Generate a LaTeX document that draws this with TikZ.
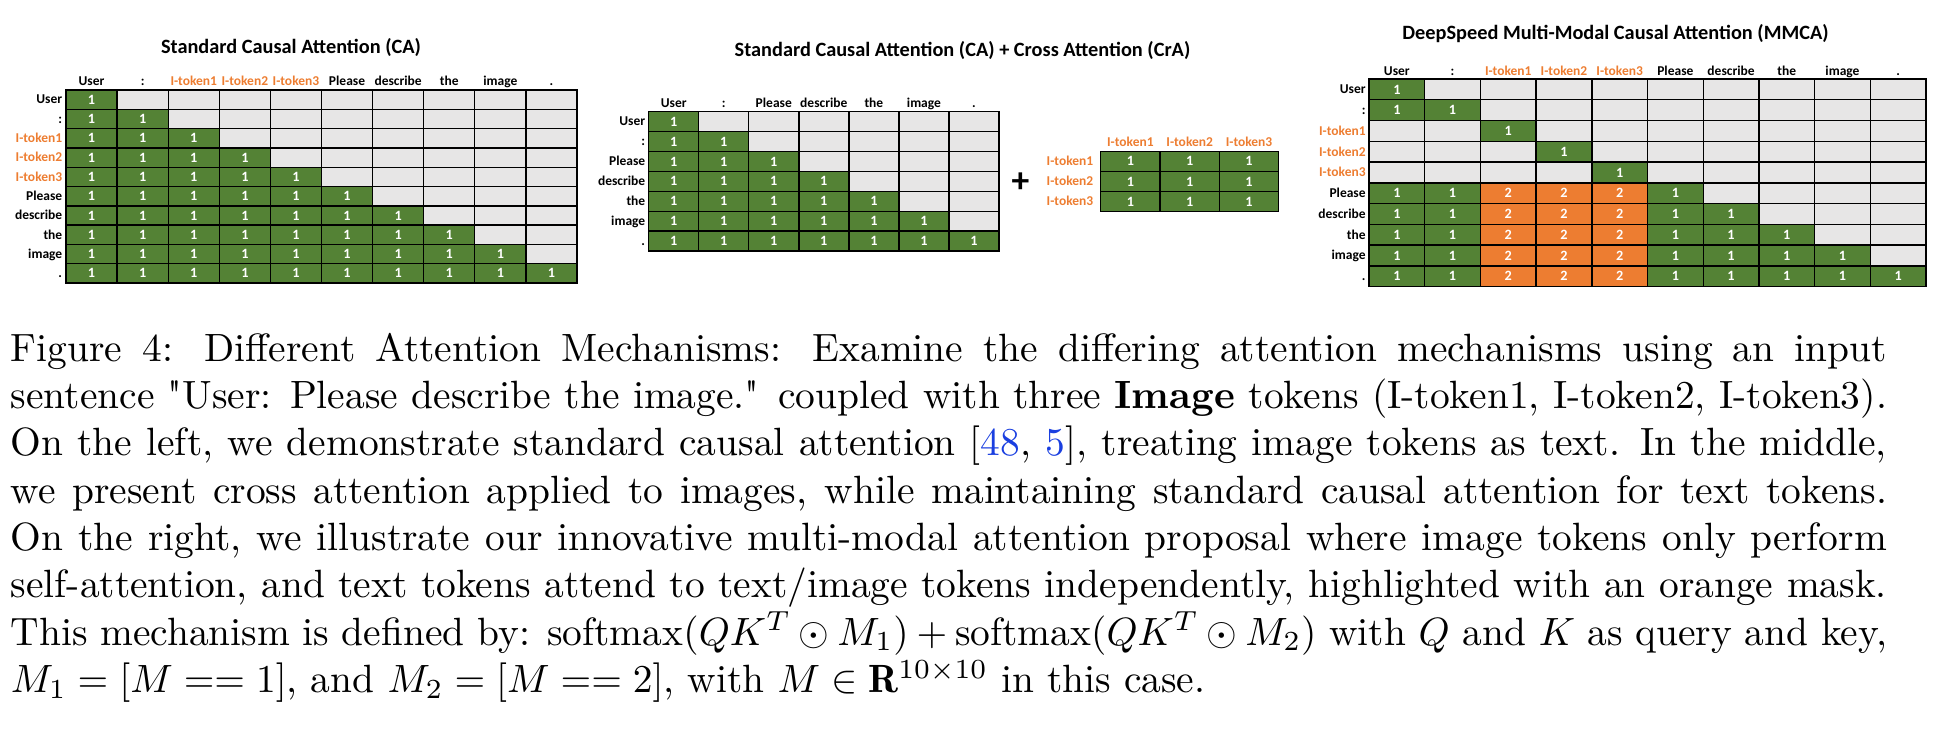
\documentclass[tikz,border=0pt]{standalone}
\usepackage{fontspec}
\newfontfamily\calfont{Carlito}
\definecolor{cgreen}{HTML}{548235}
\definecolor{corange}{HTML}{ED7D31}
\definecolor{cgrey}{HTML}{E7E6E6}
\definecolor{cblue}{HTML}{1A3FE0}
\newcommand\itk[1]{\textcolor{corange}{#1}}
\newcommand\sqt{{\XeTeXglyph\XeTeXcharglyph"22\relax}}
\tikzset{
  cell/.style={draw=black, line width=0.35pt, inner sep=0pt, text=white,
    font=\calfont\bfseries\fontsize{3.6}{4}\selectfont},
  lab/.style={inner sep=0pt, text=black, font=\calfont\bfseries\fontsize{3.42}{4}\selectfont},
  ttl/.style={inner sep=0pt, anchor=base, font=\calfont\bfseries\fontsize{5.15}{6}\selectfont},
  plussign/.style={inner sep=0pt, font=\calfont\bfseries\fontsize{9}{10}\selectfont},
}
% #1 name, #2 left, #3 top, #4 cell width, #5 cell height, #6 rows, #7 cols, #8 kind
\newcommand\attgrid[8]{%
  \foreach \r in {1,...,#6}{%
    \foreach \c in {1,...,#7}{%
      \ifcase#8\relax
        \pgfmathtruncatemacro\v{\c<=\r ? 1 : 0}%
      \or
        \def\v{1}%
      \or
        \pgfmathtruncatemacro\v{\r<=2 ? (\c<=\r ? 1 : 0) : (\r<=5 ? (\c==\r ? 1 : 0) : (\c<=2 ? 1 : (\c<=5 ? 2 : (\c<=\r ? 1 : 0))))}%
      \fi
      \ifcase\v\relax \def\fc{cgrey}\def\tx{}\or \def\fc{cgreen}\def\tx{1}\or \def\fc{corange}\def\tx{2}\fi
      \node[cell, fill=\fc, minimum width=#4*0.2535pt, minimum height=#5*0.2535pt]
        (#1-\r-\c) at ({#2+#4*(\c-0.5)},{#3+#5*(\r-0.5)}) {\tx};
    }%
  }%
}
% #1 name, #2 left, #3 top, #4 W, #5 H, #6 header baseline, #7 label right x, #8 list
\newcommand\gridlabels[8]{%
  \foreach \t [count=\i] in {#8}{%
    \node[lab, anchor=base] (#1-h\i) at ({#2+#4*(\i-0.5)},#6) {\t};
    \node[lab, anchor=base east] (#1-l\i) at (#7,{#3+#5*(\i-0.5)+4.3}) {\t};
  }%
}
\newcommand\capline[1]{\hbox to 475.6pt{#1}}
\begin{document}
\begin{tikzpicture}[x=0.2535pt, y=-0.2535pt]
\path[use as bounding box] (0,0) rectangle (1951,741);

% ---- Standard Causal Attention
\node[ttl] (t1) at (291,53.3) {Standard Causal Attention (CA)};
\attgrid{ca}{66}{90}{51.1}{19.3}{10}{10}{0}
\gridlabels{ca}{66}{90}{51.1}{19.3}{85.7}{63}{User,:,\itk{I-token1},\itk{I-token2},\itk{I-token3},Please,describe,the,image,.}

% ---- CA + CrA
\node[ttl] (t2) at (962.5,56.5) {Standard Causal Attention (CA) + Cross Attention (CrA)};
\attgrid{cb}{648.7}{111.7}{50.04}{19.9}{7}{7}{0}
\gridlabels{cb}{648.7}{111.7}{50.04}{19.9}{107.3}{646}{User,:,Please,describe,the,image,.}
\node[plussign] (plus) at (1020.5,182.5) {+};
\attgrid{cr}{1100.7}{151.3}{59.33}{20.13}{3}{3}{1}
\gridlabels{cr}{1100.7}{151.3}{59.33}{20.13}{146.7}{1094}{\itk{I-token1},\itk{I-token2},\itk{I-token3}}

% ---- MMCA
\node[ttl] (t3) at (1615.5,39.3) {DeepSpeed Multi-Modal Causal Attention (MMCA)};
\attgrid{mm}{1369}{79}{55.7}{20.77}{10}{10}{2}
\gridlabels{mm}{1369}{79}{55.7}{20.77}{75}{1366.4}{User,:,\itk{I-token1},\itk{I-token2},\itk{I-token3},Please,describe,the,image,.}

% ---- caption
\node[anchor=base west, inner sep=0pt] (cap) at (10,361) {\parbox[t]{475.6pt}{\fontsize{10}{12}\selectfont
\capline{Figure 4: Different Attention Mechanisms: Examine the differing attention mechanisms using an input}
\capline{sentence \sqt User: Please describe the image.\sqt{} coupled with three \textbf{Image} tokens (I-token1, I-token2, I-token3).}
\capline{On the left, we demonstrate standard causal attention [\textcolor{cblue}{48}, \textcolor{cblue}{5}], treating image tokens as text. In the middle,}
\capline{we present cross attention applied to images, while maintaining standard causal attention for text tokens.}
\capline{On the right, we illustrate our innovative multi-modal attention proposal where image tokens only perform}
\capline{self-attention, and text tokens attend to text/image tokens independently, highlighted with an orange mask.}
\capline{This mechanism is defined by: $\mathrm{softmax}(QK^T\odot M_1)+\mathrm{softmax}(QK^T\odot M_2)$ with $Q$ and $K$ as query and key,}
\hbox{$M_1=[M==1]$, and $M_2=[M==2]$, with $M\in\mathbf{R}^{10\times 10}$ in this case.}
}};
\end{tikzpicture}
\end{document}
